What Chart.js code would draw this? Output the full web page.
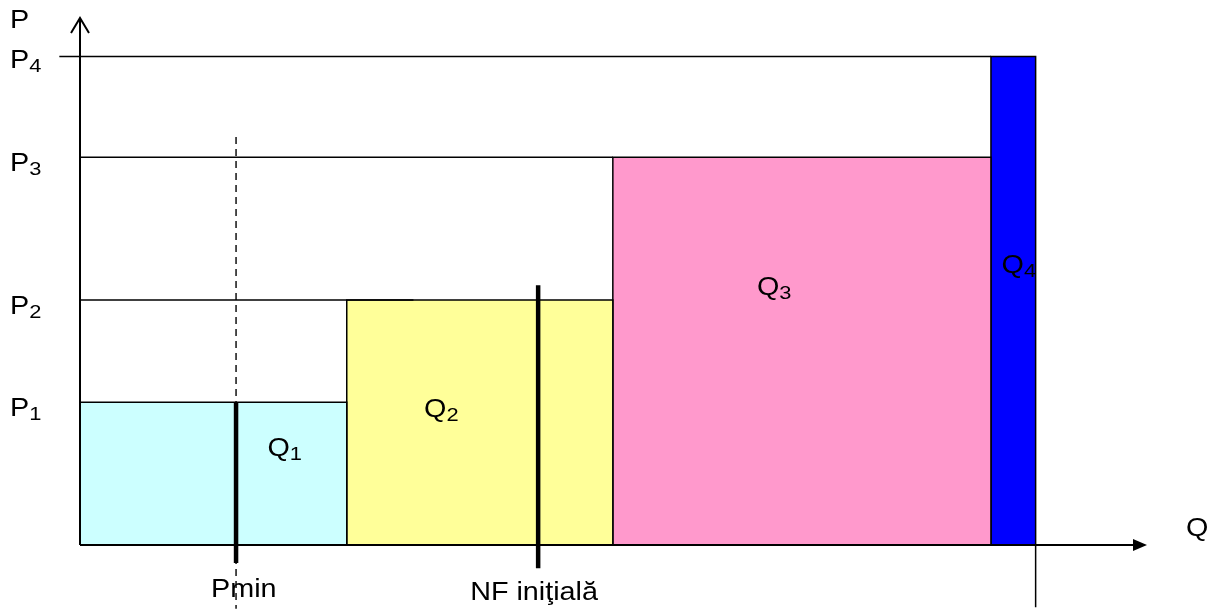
<!DOCTYPE html>
<html>
<head>
<meta charset="utf-8">
<script src="https://cdn.jsdelivr.net/npm/chart.js@4/dist/chart.umd.min.js"></script>
<style>
html,body{margin:0;padding:0;background:#fff;}
canvas{display:block;}
</style>
</head>
<body>
<canvas id="chart" width="1220" height="609"></canvas>
<script>

// quantity block boundaries (Q1..Q4) and price levels (P1..P4)
const qBounds = [0, 4, 7.99, 13.66, 14.33];
const pLevels = [2.71, 4.65, 7.36, 9.27];
const blockColors = ["#ccffff", "#ffff99", "#ff99cc", "#0000ff"];
const blockSubs = ["1", "2", "3", "4"];

// marker positions on Q axis
const pMin = 2.34;
const nfInit = 6.87;
const markerLabels = ["Pmin", "NF iniţială"];

// where the Q labels sit inside each block (data units)
const qLabelX = [2.81, 5.16, 10.15, 13.82];
const qLabelY = [1.68, 2.43, 4.74, 5.17];

const FONT = "\"Liberation Sans\", Arial, sans-serif";

function txt(ctx, px, py, main, sub){
ctx.save();
ctx.translate(px, py);
ctx.scale(1.15, 1);
ctx.fillStyle = "#000";
ctx.textBaseline = "alphabetic";
ctx.font = "25px " + FONT;
ctx.fillText(main, 0, 0);
if(sub){
const w = ctx.measureText(main).width;
ctx.font = "19px " + FONT;
ctx.fillText(sub, w, 4);
}
ctx.restore();
}

const datasets = [];

pLevels.forEach((p, i) => {
datasets.push({
data: [
{x: qBounds[i], y: 0},
{x: qBounds[i], y: p},
{x: qBounds[i+1], y: p},
{x: qBounds[i+1], y: 0}
],
fill: "origin",
backgroundColor: blockColors[i],
borderColor: "#000",
borderWidth: 1.5,
order: 6
});
});

// horizontal price lines
datasets.push({data: [{x: -0.31, y: pLevels[3]}, {x: qBounds[3], y: pLevels[3]}], borderColor: "#000", borderWidth: 1.5, order: 5});
datasets.push({data: [{x: 0, y: pLevels[2]}, {x: qBounds[2], y: pLevels[2]}], borderColor: "#000", borderWidth: 1.5, order: 5});
datasets.push({data: [{x: 0, y: pLevels[1]}, {x: 5, y: pLevels[1]}], borderColor: "#000", borderWidth: 1.5, order: 5});

// dashed Pmin guide
datasets.push({data: [{x: pMin, y: 7.74}, {x: pMin, y: -1.21}], borderColor: "#000", borderWidth: 1.4, borderDash: [7, 5], order: 4});

// thick markers
datasets.push({data: [{x: pMin, y: pLevels[0]}, {x: pMin, y: -0.34}], borderColor: "#000", borderWidth: 4.5, order: 3});
datasets.push({data: [{x: nfInit, y: 4.93}, {x: nfInit, y: -0.44}], borderColor: "#000", borderWidth: 4.5, order: 3});

// tick under end of Q4
datasets.push({data: [{x: qBounds[4], y: 0}, {x: qBounds[4], y: -1.18}], borderColor: "#000", borderWidth: 1.5, order: 2});

// axes
datasets.push({data: [{x: 0, y: 0}, {x: 15.8, y: 0}], borderColor: "#000", borderWidth: 2, order: 1});
datasets.push({data: [{x: 0, y: 0}, {x: 0, y: 10}], borderColor: "#000", borderWidth: 2, order: 1});

datasets.forEach(d => {
d.clip = false;
d.pointRadius = 0;
d.tension = 0;
if(!d.fill) d.fill = false;
});

const decor = {
id: "decor",
afterDatasetsDraw(chart){
const ctx = chart.ctx;
const x = chart.scales.x;
const y = chart.scales.y;

const x0 = x.getPixelForValue(0);
const y0 = y.getPixelForValue(0);
const yTop = y.getPixelForValue(10);
const xEnd = x.getPixelForValue(16);

// y arrow (open)
ctx.save();
ctx.strokeStyle = "#000";
ctx.lineWidth = 2;
ctx.beginPath();
ctx.moveTo(x0 - 9, yTop + 15);
ctx.lineTo(x0, yTop);
ctx.lineTo(x0 + 9, yTop + 15);
ctx.stroke();

// x arrow (filled)
ctx.fillStyle = "#000";
ctx.beginPath();
ctx.moveTo(xEnd, y0);
ctx.lineTo(xEnd - 14, y0 - 6);
ctx.lineTo(xEnd - 14, y0 + 6);
ctx.closePath();
ctx.fill();
ctx.restore();

// axis names
txt(ctx, 10, 28, "P");
txt(ctx, xEnd + 39, y0 - 9, "Q");

// price labels
pLevels.forEach((p, i) => {
const py = y.getPixelForValue(p);
txt(ctx, 10, py + (i === 3 ? 12 : 14), "P", String(i + 1));
});

// block labels
blockSubs.forEach((s, i) => {
txt(ctx, x.getPixelForValue(qLabelX[i]), y.getPixelForValue(qLabelY[i]), "Q", s);
});

// marker labels
txt(ctx, x.getPixelForValue(pMin) - 25, y0 + 52, markerLabels[0]);
txt(ctx, x.getPixelForValue(nfInit) - 68, y0 + 55, markerLabels[1]);
}
};

new Chart(document.getElementById("chart"), {
type: "line",
data: {datasets: datasets},
options: {
responsive: false,
animation: false,
events: [],
layout: {padding: {left: 80, right: 73, top: 18, bottom: 64}},
plugins: {legend: {display: false}, tooltip: {enabled: false}},
scales: {
x: {type: "linear", min: 0, max: 16, display: false},
y: {type: "linear", min: 0, max: 10, display: false}
}
},
plugins: [decor]
});

</script>
</body>
</html>
